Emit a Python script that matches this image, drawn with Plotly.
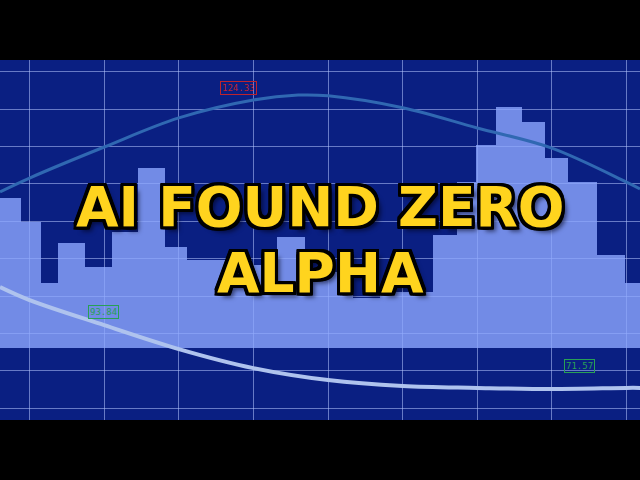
import plotly.graph_objects as go

# ---- data ----
bar_edges = [-0.40, -0.115, 0.153, 0.381, 0.743, 1.105, 1.453, 1.815, 2.110, 2.552,
             2.981, 3.316, 3.692, 4.335, 4.697, 5.408, 5.729, 5.984, 6.252, 6.601,
             6.909, 7.217, 7.606, 7.981, 8.30]
bar_tops = [5.63, 4.98, 3.35, 4.42, 3.78, 4.71, 6.43, 4.31, 3.96, 3.96, 3.83, 4.58,
            3.64, 2.95, 3.11, 4.63, 6.05, 7.05, 8.06, 7.66, 6.70, 6.05, 4.10, 3.35]
bar_base = 1.607

upper_x = [-0.397, 0, 1, 2, 3, 3.6, 4, 5, 6, 7, 8, 8.182]
upper_y = [5.79, 6.16, 6.99, 7.77, 8.25, 8.38, 8.36, 8.04, 7.50, 6.96, 6.05, 5.87]

lower_x = [-0.397, 0, 1, 2, 3, 4, 5, 6, 7, 8, 8.182]
lower_y = [3.24, 2.89, 2.22, 1.58, 1.07, 0.75, 0.59, 0.54, 0.51, 0.54, 0.54]

labels = ["124.33", "93.84", "71.57"]
title_lines = ["AI FOUND ZERO", "ALPHA"]

NAVY = "rgb(10,31,130)"

centers = [(bar_edges[i] + bar_edges[i + 1]) / 2 for i in range(len(bar_tops))]
widths = [bar_edges[i + 1] - bar_edges[i] for i in range(len(bar_tops))]
heights = [t - bar_base for t in bar_tops]

fig = go.Figure()
fig.add_trace(go.Bar(x=centers, y=heights, base=bar_base, width=widths,
                     marker=dict(color="rgb(141,167,255)", line=dict(width=0)),
                     opacity=0.8, hoverinfo="skip"))
fig.add_trace(go.Scatter(x=upper_x, y=upper_y, mode="lines",
                         line=dict(color="rgb(48,104,178)", width=3, shape="spline"),
                         hoverinfo="skip"))
fig.add_trace(go.Scatter(x=lower_x, y=lower_y, mode="lines",
                         line=dict(color="rgb(175,195,238)", width=4, shape="spline"),
                         hoverinfo="skip"))

outline = ("3px 0 0 #000, -3px 0 0 #000, 0 3px 0 #000, 0 -3px 0 #000, "
           "3px 3px 0 #000, -3px -3px 0 #000, 3px -3px 0 #000, -3px 3px 0 #000, "
           "2px 3px 0 #000, 3px 2px 0 #000, -2px 3px 0 #000, -3px 2px 0 #000, "
           "2px -3px 0 #000, 3px -2px 0 #000, -2px -3px 0 #000, -3px -2px 0 #000, "
           "5px 5px 4px rgba(0,0,20,0.55)")

annos = [
    dict(x=2.80, y=8.57, text=labels[0], font=dict(color="rgb(190,35,45)")),
    dict(x=0.997, y=2.585, text=labels[1], font=dict(color="rgb(40,160,85)")),
    dict(x=7.365, y=1.125, text=labels[2], font=dict(color="rgb(40,160,85)")),
]
for a in annos:
    col = a["font"]["color"]
    fig.add_annotation(x=a["x"], y=a["y"], xref="x", yref="y", text=a["text"],
                       showarrow=False,
                       font=dict(family="DejaVu Sans Mono", size=9, color=col),
                       bordercolor=col, borderwidth=1, borderpad=1)

for txt, py in zip(title_lines, [0.592, 0.408]):
    fig.add_annotation(x=0.5, y=py, xref="paper", yref="paper", text=txt,
                       showarrow=False, xanchor="center", yanchor="middle",
                       font=dict(family="DejaVu Sans", size=55, color="rgb(255,212,30)",
                                 weight="bold", shadow=outline))

grid = dict(showgrid=True, gridcolor="rgba(180,196,255,0.55)", gridwidth=1,
            zeroline=False, showticklabels=False, showline=False, ticks="",
            tick0=0, dtick=1)
fig.update_layout(
    width=640, height=480,
    margin=dict(l=0, r=0, t=60, b=60),
    paper_bgcolor="black", plot_bgcolor=NAVY,
    showlegend=False, bargap=0,
    xaxis=dict(range=[-0.397, 8.182], **grid),
    yaxis=dict(range=[-0.32, 9.32], **grid),
)
fig.write_html("out.html", config=dict(displayModeBar=False),
               post_script="document.body.style.margin='0';document.body.style.background='black';")
